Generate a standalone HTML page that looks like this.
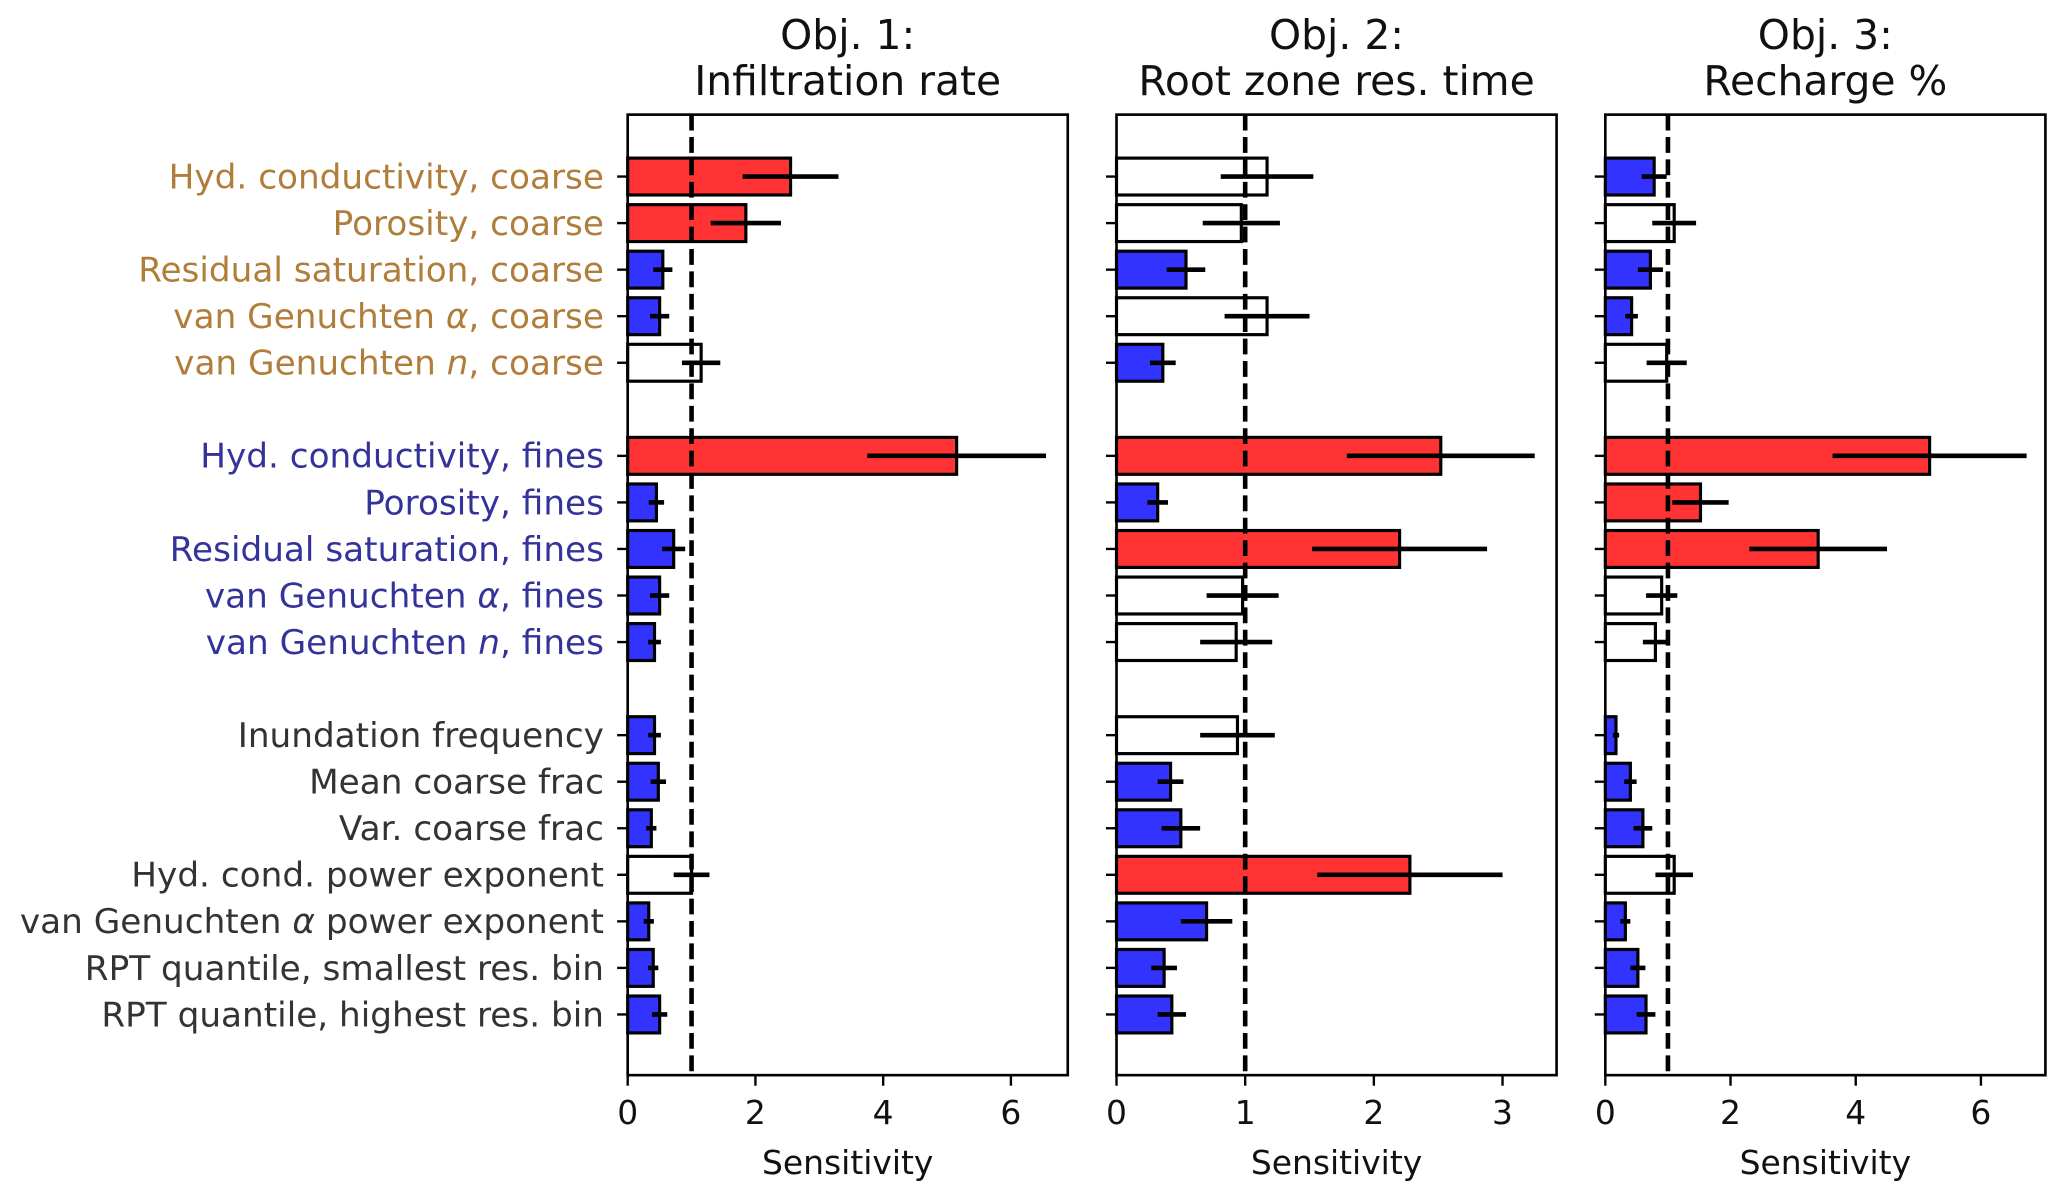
<!DOCTYPE html>
<html><head><meta charset="utf-8"><style>
html,body{margin:0;padding:0;background:#fff}
svg{display:block}
text{font-family:"DejaVu Sans","Liberation Sans",sans-serif}
</style></head><body>
<svg id="chart" width="2067" height="1199" viewBox="0 0 1568 910" xmlns="http://www.w3.org/2000/svg"></svg>
<script>
const labels = ["Hyd. conductivity, coarse","Porosity, coarse","Residual saturation, coarse","van Genuchten \u03b1, coarse","van Genuchten n, coarse",
"Hyd. conductivity, fines","Porosity, fines","Residual saturation, fines","van Genuchten \u03b1, fines","van Genuchten n, fines",
"Inundation frequency","Mean coarse frac","Var. coarse frac","Hyd. cond. power exponent","van Genuchten \u03b1 power exponent","RPT quantile, smallest res. bin","RPT quantile, highest res. bin"];
const groups = ["coarse","coarse","coarse","coarse","coarse","fines","fines","fines","fines","fines","other","other","other","other","other","other","other"];
const rowPos = [0,1,2,3,4,6,7,8,9,10,12,13,14,15,16,17,18];
const titles1 = ["Obj. 1:","Obj. 2:","Obj. 3:"];
const titles2 = ["Infiltration rate","Root zone res. time","Recharge %"];
const val1 = [2.55,1.85,0.55,0.5,1.15,5.15,0.45,0.72,0.5,0.42,0.42,0.48,0.37,1.0,0.33,0.4,0.5];
const err1 = [0.75,0.55,0.15,0.15,0.3,1.4,0.12,0.18,0.15,0.1,0.1,0.12,0.08,0.28,0.08,0.08,0.12];
const val2 = [1.17,0.97,0.54,1.17,0.36,2.52,0.32,2.2,0.98,0.93,0.94,0.42,0.5,2.28,0.7,0.37,0.43];
const err2 = [0.36,0.3,0.15,0.33,0.1,0.73,0.08,0.68,0.28,0.28,0.29,0.1,0.15,0.72,0.2,0.1,0.11];
const val3 = [0.78,1.1,0.72,0.42,0.98,5.18,1.52,3.4,0.9,0.8,0.17,0.4,0.6,1.1,0.32,0.52,0.65];
const err3 = [0.2,0.35,0.2,0.1,0.32,1.55,0.45,1.1,0.25,0.2,0.05,0.1,0.15,0.3,0.08,0.12,0.15];
const ticks1 = [0,2,4,6], ticks2 = [0,1,2,3], ticks3 = [0,2,4,6];
const xmax = [6.89,3.42,7.03];

const NS="http://www.w3.org/2000/svg", svg=document.getElementById('chart');
function el(t,a,txt){const e=document.createElementNS(NS,t);for(const k in a)e.setAttribute(k,a[k]);if(txt!==undefined)e.textContent=txt;svg.appendChild(e);return e;}
const top_=87, bot=816;
const yOf = p => 134 + p*35.33;
const panelsX = [476,847,1218], pw = 334;
const vals=[val1,val2,val3], errs=[err1,err2,err3], ticks=[ticks1,ticks2,ticks3];
const gcol={coarse:"#b07d3a",fines:"#333399",other:"#333333"};

labels.forEach((l,i)=>{
  const t=el('text',{x:458,y:yOf(rowPos[i])+9,'text-anchor':'end','font-size':26,fill:gcol[groups[i]]});
  
  
  const m=l.match(/^(.*?)(\u03b1|\bn\b)([ ,].*)$/);
  if(m){t.appendChild(document.createTextNode(m[1]));const s=document.createElementNS(NS,'tspan');s.setAttribute('font-style','italic');s.textContent=m[2];t.appendChild(s);t.appendChild(document.createTextNode(m[3]));}
  else t.textContent=l;
});

for(let p=0;p<3;p++){
  const x0=panelsX[p], sx=v=>x0+v/xmax[p]*pw;
  const t1=el('text',{x:x0+pw/2,y:37,'text-anchor':'middle','font-size':31,fill:'#111'},titles1[p]);
  
  
  const t2=el('text',{x:x0+pw/2,y:72,'text-anchor':'middle','font-size':31,fill:'#111'},titles2[p]);
  
  
  vals[p].forEach((v,i)=>{
    const e=errs[p][i], y=yOf(rowPos[i]);
    const fill = v-e>1 ? '#ff3333' : (v+e<1 ? '#3333ff' : '#ffffff');
    const r=el('rect',{x:sx(0),y:y-14,width:sx(v)-sx(0),height:28,fill:fill,stroke:'#000','stroke-width':2.4});
    
    
    const eb=el('line',{x1:sx(v-e),x2:sx(v+e),y1:y,y2:y,stroke:'#000','stroke-width':3.5});
    
    
    el('line',{x1:x0-8,x2:x0,y1:y,y2:y,stroke:'#000','stroke-width':1.8});
  });
  const d=el('line',{x1:sx(1),x2:sx(1),y1:top_,y2:bot,stroke:'#000','stroke-width':3.5,'stroke-dasharray':'12,5'});
  
  
  const f=el('rect',{x:x0,y:top_,width:pw,height:bot-top_,fill:'none',stroke:'#000','stroke-width':2});
  
  
  ticks[p].forEach(tv=>{
    el('line',{x1:sx(tv),x2:sx(tv),y1:bot,y2:bot+8,stroke:'#000','stroke-width':1.8});
    const tt=el('text',{x:sx(tv),y:bot+37,'text-anchor':'middle','font-size':25,fill:'#111'},String(tv));
    
    
  });
  const xl=el('text',{x:x0+pw/2,y:891,'text-anchor':'middle','font-size':25,fill:'#111'},'Sensitivity');
  
  
}
</script>
</body></html>
